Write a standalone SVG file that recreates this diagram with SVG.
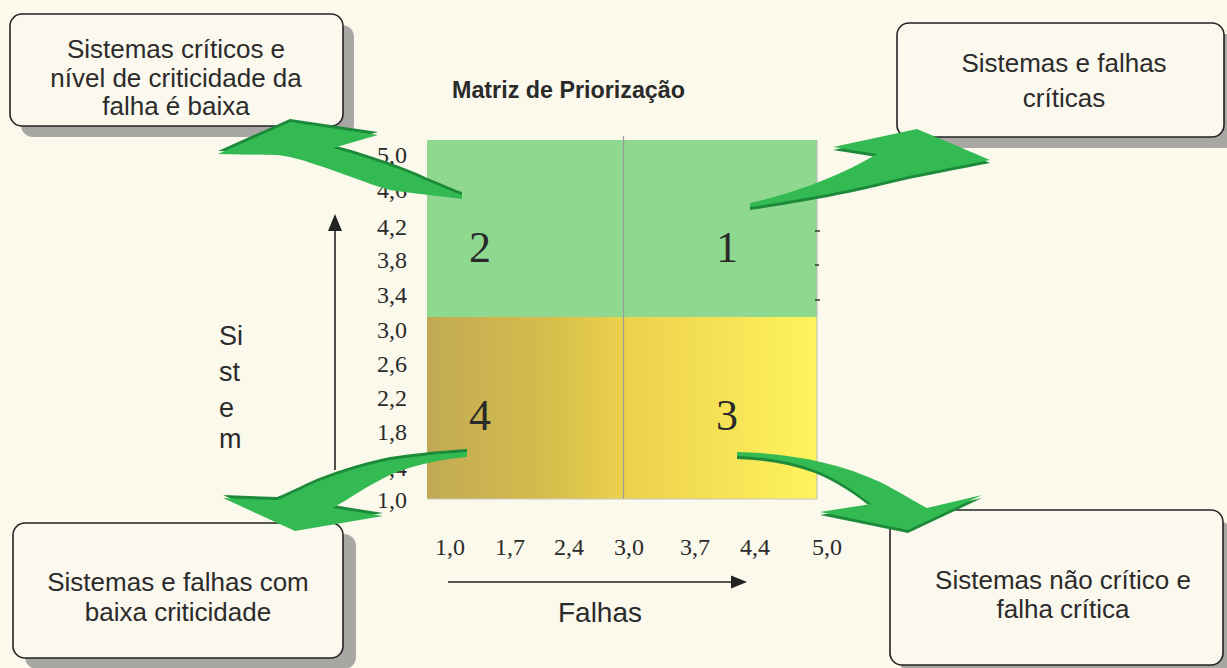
<svg xmlns="http://www.w3.org/2000/svg" width="1227" height="668" viewBox="0 0 1227 668">
<defs>
<style>
.box{fill:#fbf8ee;stroke:#222;stroke-width:1.6}
.shadow{fill:#a9a7a4}
.bt{font-family:"Liberation Sans",Arial,sans-serif;font-size:26px;fill:#2b2b2b;text-anchor:middle}
.num{font-family:"Liberation Serif","Times New Roman",serif;font-size:24px;fill:#2b2b2b}
.ylab{text-anchor:end}
.xlab{text-anchor:middle}
.big{font-family:"Liberation Serif","Times New Roman",serif;font-size:44px;fill:#2a2a2a;text-anchor:middle}
.axis{stroke:#222;stroke-width:1.6;fill:none}
.arw{fill:#33ba52}
.arwd{fill:#1c8a3a}
</style>
<linearGradient id="low" x1="427" y1="0" x2="817" y2="0" gradientUnits="userSpaceOnUse">
<stop offset="0" stop-color="#c2aa54"/>
<stop offset="0.3" stop-color="#d5bc4c"/>
<stop offset="0.5" stop-color="#ead14c"/>
<stop offset="0.75" stop-color="#f6e154"/>
<stop offset="1" stop-color="#fff45e"/>
</linearGradient>
</defs>
<rect width="1227" height="668" fill="#fbf8ec"/>

<g id="matrix">
<rect x="427" y="140" width="390" height="177" fill="#8fd88f"/>
<rect x="427" y="317" width="390" height="182" fill="url(#low)"/>
<line x1="623.5" y1="136" x2="623.5" y2="499" stroke="#9a9a9a" stroke-width="1.2"/>
<line x1="817" y1="140" x2="817" y2="499" stroke="#b8b8b0" stroke-width="1"/>
<line x1="427" y1="499" x2="817" y2="499" stroke="#c8c6bc" stroke-width="1"/>
<path d="M815 231h5M815 265h4M815 300h5" stroke="#333" stroke-width="1.4"/>
<text class="big" x="480" y="262">2</text>
<text class="big" x="727" y="262">1</text>
<text class="big" x="480" y="430">4</text>
<text class="big" x="727" y="430">3</text>
</g>

<g id="title">
<text x="452" y="98" font-family="'Liberation Sans',Arial,sans-serif" font-size="23" font-weight="bold" fill="#2a2a2a" textLength="233" lengthAdjust="spacingAndGlyphs">Matriz de Priorização</text>
</g>

<g id="y-axis">
<g class="num ylab">
<text x="407" y="163">5,0</text>
<text x="407" y="198">4,6</text>
<text x="407" y="235">4,2</text>
<text x="407" y="268">3,8</text>
<text x="407" y="303">3,4</text>
<text x="407" y="338">3,0</text>
<text x="407" y="372">2,6</text>
<text x="407" y="406">2,2</text>
<text x="407" y="440">1,8</text>
<text x="407" y="476">1,4</text>
<text x="407" y="508">1,0</text>
</g>
<line class="axis" x1="335" y1="470" x2="335" y2="228"/>
<polygon points="335,214 328,231 342,231" fill="#222"/>
<g font-family="'Liberation Sans',Arial,sans-serif" font-size="27" fill="#2b2b2b">
<text x="219" y="345">Si</text>
<text x="219" y="381">st</text>
<text x="219" y="417">e</text>
<text x="219" y="448">m</text>
</g>
</g>

<g id="x-axis">
<g class="num xlab">
<text x="450" y="555">1,0</text>
<text x="510" y="555">1,7</text>
<text x="569" y="555">2,4</text>
<text x="629" y="555">3,0</text>
<text x="695" y="555">3,7</text>
<text x="755" y="555">4,4</text>
<text x="827" y="555">5,0</text>
</g>
<line class="axis" x1="448" y1="582" x2="733" y2="582"/>
<polygon points="747,582 731,575.5 731,588.5" fill="#222"/>
<text x="600" y="622" font-family="'Liberation Sans',Arial,sans-serif" font-size="28" fill="#2b2b2b" text-anchor="middle">Falhas</text>
</g>

<g id="box-1">
<rect class="shadow" x="21" y="25" width="333" height="112" rx="12"/>
<rect class="box" x="10" y="14" width="333" height="112" rx="12"/>
<text class="bt" x="176" y="58">Sistemas críticos e</text>
<text class="bt" x="176" y="86.5">nível de criticidade da</text>
<text class="bt" x="176" y="115">falha é  baixa</text>
</g>

<g id="box-2">
<rect class="shadow" x="908" y="34" width="330" height="114" rx="12"/>
<rect class="box" x="897" y="23" width="327" height="114" rx="12"/>
<text class="bt" x="1064" y="72">Sistemas e falhas</text>
<text class="bt" x="1064" y="107">críticas</text>
</g>

<g id="box-3">
<rect class="shadow" x="25" y="534" width="331" height="135" rx="12"/>
<rect class="box" x="13" y="523" width="330" height="135" rx="12"/>
<text class="bt" x="178" y="591">Sistemas e falhas com</text>
<text class="bt" x="178" y="621">baixa criticidade</text>
</g>

<g id="box-4">
<rect class="shadow" x="901" y="521" width="330" height="155" rx="12"/>
<rect class="box" x="890" y="510" width="333" height="155" rx="12"/>
<text class="bt" x="1063" y="589">Sistemas não crítico e</text>
<text class="bt" x="1063" y="618">falha crítica</text>
</g>

<g id="connectors">
<g id="arrow-2">
<path class="arwd" transform="translate(0,-3)" d="M290,122 L378,135 L333,148 C360,155 400,168 430,182 C445,188 455,193 462,195 L462,199 C440,196 410,193 390,190 C365,183 340,172 317,165 C300,159 288,156 277,155 L218,154 Z"/>
<path class="arw" d="M290,122 L378,135 L333,148 C360,155 400,168 430,182 C445,188 455,193 462,195 L462,199 C440,196 410,193 390,190 C365,183 340,172 317,165 C300,159 288,156 277,155 L218,154 Z"/>
</g>
<g id="arrow-1">
<path class="arwd" transform="translate(0,3)" d="M750,203 C800,192 843,174 877,154 L833,147 L917,129 L990,160 C960,166 920,173 883,182 C850,190 817,197 750,207 Z"/>
<path class="arw" d="M750,203 C800,192 843,174 877,154 L833,147 L917,129 L990,160 C960,166 920,173 883,182 C850,190 817,197 750,207 Z"/>
</g>
<g id="arrow-4">
<path class="arwd" transform="translate(0,-3)" d="M467,452 C435,454 410,457 390,460 C360,466 330,476 310,485 C295,492 285,497 277,500 L223,498 L295,531 L383,516 L333,508 C350,498 370,484 392,474 C415,465 440,459 467,457 Z"/>
<path class="arw" d="M467,452 C435,454 410,457 390,460 C360,466 330,476 310,485 C295,492 285,497 277,500 L223,498 L295,531 L383,516 L333,508 C350,498 370,484 392,474 C415,465 440,459 467,457 Z"/>
</g>
<g id="arrow-3">
<path class="arwd" transform="translate(0,3)" d="M737,452 C790,453 840,463 880,482 C900,492 915,502 927,508 L982,495 L908,530 L820,512 L871,504 C856,492 835,478 815,470 C790,461 765,457 737,456 Z"/>
<path class="arw" d="M737,452 C790,453 840,463 880,482 C900,492 915,502 927,508 L982,495 L908,530 L820,512 L871,504 C856,492 835,478 815,470 C790,461 765,457 737,456 Z"/>
</g>
</g>
</svg>
